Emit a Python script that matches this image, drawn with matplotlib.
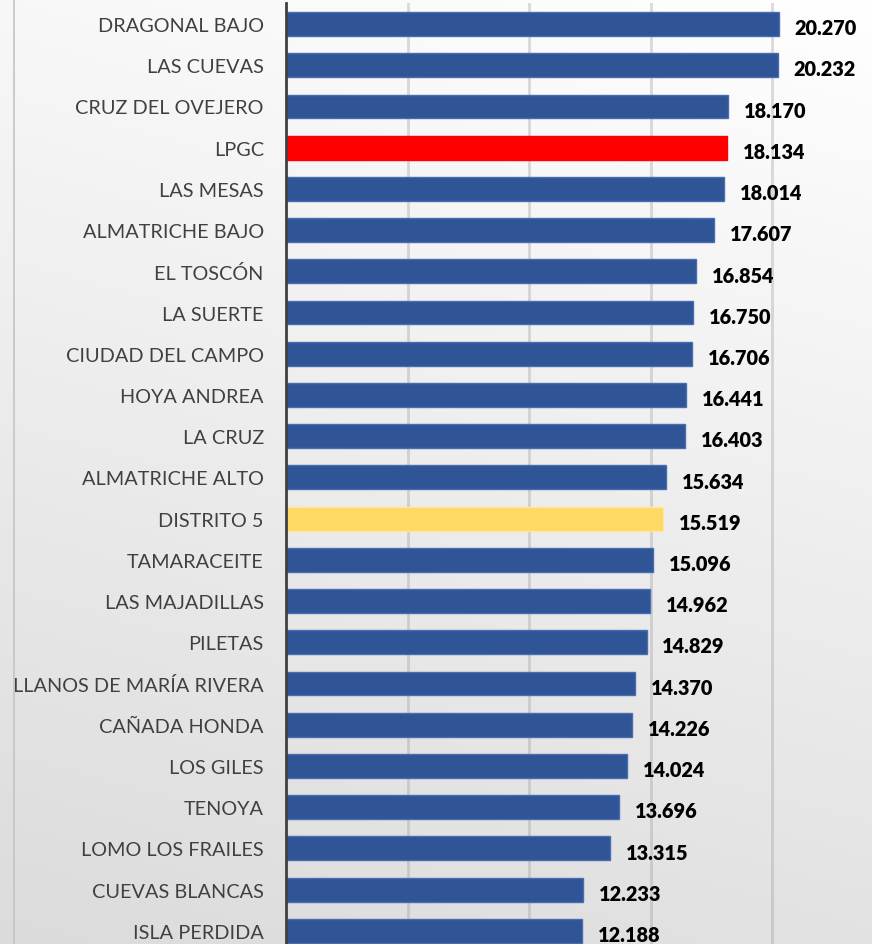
import matplotlib
matplotlib.use("Agg")
import matplotlib.pyplot as plt
from matplotlib.lines import Line2D
import numpy as np

# Data (Spanish thousands separator)
barrios = ["DRAGONAL BAJO", "LAS CUEVAS", "CRUZ DEL OVEJERO", "LPGC", "LAS MESAS",
           "ALMATRICHE BAJO", "EL TOSCÓN", "LA SUERTE", "CIUDAD DEL CAMPO", "HOYA ANDREA",
           "LA CRUZ", "ALMATRICHE ALTO", "DISTRITO 5", "TAMARACEITE", "LAS MAJADILLAS",
           "PILETAS", "LLANOS DE MARÍA RIVERA", "CAÑADA HONDA", "LOS GILES", "TENOYA",
           "LOMO LOS FRAILES", "CUEVAS BLANCAS", "ISLA PERDIDA"]
valores = [20270, 20232, 18170, 18134, 18014, 17607, 16854, 16750, 16706, 16441,
           16403, 15634, 15519, 15096, 14962, 14829, 14370, 14226, 14024, 13696,
           13315, 12233, 12188]

# Colours: default blue, red for the city total, yellow for the district
colores = []
for b in barrios:
    if b == "LPGC":
        colores.append("#FF0000")
    elif b == "DISTRITO 5":
        colores.append("#FFD966")
    else:
        colores.append("#2F5597")
bordes = ["#FF0000" if c == "#FF0000" else ("#FFE699" if c == "#FFD966" else "#4A6DB0") for c in colores]

plt.rcParams['font.family'] = ['Lato', 'DejaVu Sans']

fig = plt.figure(figsize=(8.72, 9.45), dpi=100)

# background gradient (white top-right -> light gray bottom-left)
bg = fig.add_axes([0, 0, 1, 1], zorder=-10)
yy, xx = np.mgrid[0:1:200j, 0:1:200j]
t = 0.8 * yy + 0.2 * (1 - xx)
top, bottom = np.array([1.0, 1.0, 1.0]), np.array([0.86, 0.86, 0.86])
img = top[None, None, :] * (1 - t[..., None]) + bottom[None, None, :] * t[..., None]
bg.imshow(img, aspect='auto', extent=[0, 1, 0, 1], interpolation='bilinear')
bg.axis('off')

# chart area border line on the left
fig.add_artist(Line2D([13.5 / 872, 13.5 / 872], [0, 1], transform=fig.transFigure,
                      color="#c4c4c4", lw=1.2))

ax = fig.add_axes([286 / 872, 0, 1 - 286 / 872, 1 - 4 / 945])
ax.set_facecolor('none')

y = np.arange(len(barrios))
ax.barh(y, valores, height=0.58, color=colores, edgecolor=bordes, linewidth=1, zorder=3)

for yi, v in zip(y, valores):
    txt = f"{v:,}".replace(",", ".")
    ax.text(v + 650, yi + 0.09, txt, ha='left', va='center', fontsize=14.3,
            fontweight='heavy', color='black', zorder=4)

ax.set_xlim(0, 24100)
ax.set_ylim(22.32, -0.51)
ax.set_xticks([5000, 10000, 15000, 20000])
ax.xaxis.grid(True, color='#9a9a9a', alpha=0.35, lw=2, zorder=0)
ax.tick_params(axis='x', bottom=False, labelbottom=False)
ax.set_yticks(y)
ax.set_yticklabels(barrios, fontsize=14.3, color='#404040')
ax.tick_params(axis='y', length=0, pad=16)

for s in ['top', 'right', 'bottom']:
    ax.spines[s].set_visible(False)
ax.spines['left'].set_color('#404040')
ax.spines['left'].set_linewidth(2)
ax.spines['left'].set_zorder(5)

fig.savefig("out.png", dpi=100)
